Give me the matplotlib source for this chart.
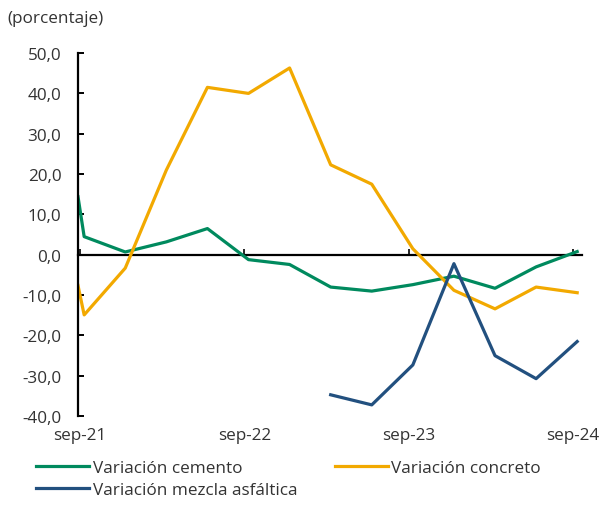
import numpy as np
import matplotlib.pyplot as plt
from matplotlib.ticker import FuncFormatter

# quarterly points (sep-21 ... sep-24), position in quarters; first value sits on the axis edge
x_pos = [-0.15, 0, 1, 2, 3, 4, 5, 6, 7, 8, 9, 10, 11, 12]
cemento = [14.4, 4.5, 0.7, 3.2, 6.5, -1.2, -2.4, -8.0, -9.0, -7.4, -5.3, -8.3, -3.0, 0.8]
concreto = [-7.6, -14.9, -3.3, 21.0, 41.5, 40.0, 46.3, 22.3, 17.5, 1.5, -8.8, -13.4, -8.0, -9.4]
asfaltica_pos = [6, 7, 8, 9, 10, 11, 12]
asfaltica = [-34.7, -37.2, -27.3, -2.2, -25.0, -30.7, -21.5]

tick_pos = [-0.1, 3.9, 7.9, 11.9]
tick_labels = ['sep-21', 'sep-22', 'sep-23', 'sep-24']

plt.rcParams['font.family'] = ['Open Sans', 'DejaVu Sans']
text_color = '#333333'
fs = 12.3

fig = plt.figure(figsize=(6.07, 5.10), dpi=100)
ax = fig.add_axes([0.1285, 0.182, 0.8305, 0.712])

l1, = ax.plot(x_pos, cemento, color='#008A5E', linewidth=2.3, label='Variación cemento')
l2, = ax.plot(x_pos, concreto, color='#F2A900', linewidth=2.3, label='Variación concreto')
l3, = ax.plot(asfaltica_pos, asfaltica, color='#22507F', linewidth=2.3, label='Variación mezcla asfáltica')

ax.set_xlim(-0.15, 12.12)
ax.set_ylim(-40, 50)
ax.set_yticks(np.arange(-40, 51, 10))
ax.yaxis.set_major_formatter(FuncFormatter(lambda v, p: f"{v:.1f}".replace('.', ',')))

for s in ['top', 'right']:
    ax.spines[s].set_visible(False)
ax.spines['left'].set_linewidth(1.6)
ax.spines['bottom'].set_position(('data', 0))
ax.spines['bottom'].set_linewidth(1.6)
ax.spines['bottom'].set_zorder(0)

ax.tick_params(axis='y', direction='in', length=4, width=1.4, pad=12,
               labelsize=fs, labelcolor=text_color)
ax.set_xticks(tick_pos)
ax.tick_params(axis='x', direction='in', length=4, width=1.2, labelbottom=False)

sec = ax.secondary_xaxis(0)
sec.set_xticks(tick_pos)
sec.set_xticklabels(tick_labels)
sec.spines['bottom'].set_visible(False)
sec.tick_params(length=0, pad=8, labelsize=fs, labelcolor=text_color)

fig.text(0.012, 0.962, '(porcentaje)', fontsize=fs, color=text_color, va='center')

# row-wise order: cemento, concreto / asfaltica
fig.legend([l1, l3, l2], [l1.get_label(), l3.get_label(), l2.get_label()],
           loc='upper left', bbox_to_anchor=(0.06, 0.097), ncol=2, frameon=False,
           fontsize=fs, handlelength=3.1, handletextpad=0.2, columnspacing=2.2,
           labelspacing=0.4, borderpad=0, borderaxespad=0, labelcolor=text_color)

fig.savefig('out.png', dpi=100)
